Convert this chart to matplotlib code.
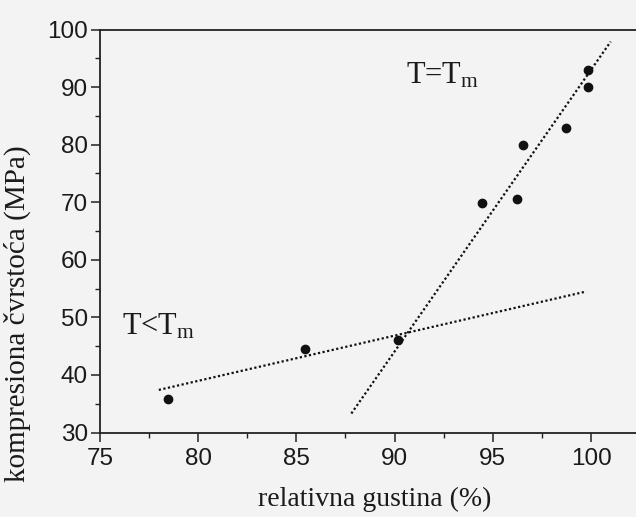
import matplotlib
matplotlib.use("Agg")
import matplotlib.pyplot as plt
from matplotlib.ticker import MultipleLocator

# measured points: relative density (%) vs compressive strength (MPa)
gustina = [78.45, 85.45, 90.18, 94.45, 96.22, 96.53, 98.75, 99.87, 99.87]
cvrstoca = [35.9, 44.5, 46.0, 69.8, 70.6, 80.0, 82.9, 93.0, 90.0]

# dotted fit lines (end points)
fit_low_x = [78.0, 99.76]
fit_low_y = [37.4, 54.5]
fit_high_x = [87.8, 101.0]
fit_high_y = [33.3, 97.9]

x_ticks = [75, 80, 85, 90, 95, 100]
y_ticks = [30, 40, 50, 60, 70, 80, 90, 100]

bg = "#f3f3f4"
serif = ["Liberation Serif", "DejaVu Serif"]
narrow = ["Liberation Sans Narrow", "Liberation Sans", "DejaVu Sans"]

fig = plt.figure(figsize=(6.36, 5.17), dpi=100, facecolor=bg)
ax = fig.add_axes([0.157, 0.1634, 0.865, 0.7795], facecolor=bg)

ax.plot(fit_low_x, fit_low_y, color="#111111", lw=1.6, linestyle=(0, (1, 1.1)))
ax.plot(fit_high_x, fit_high_y, color="#111111", lw=1.6, linestyle=(0, (1, 1.1)))
ax.plot(gustina, cvrstoca, "o", color="#111111", ms=6, zorder=3)

ax.set_xlim(75, 103)
ax.set_ylim(30, 100)
ax.set_xticks(x_ticks)
ax.set_yticks(y_ticks)
ax.xaxis.set_minor_locator(MultipleLocator(2.5))
ax.yaxis.set_minor_locator(MultipleLocator(5))

for s in ["left", "bottom", "top"]:
    ax.spines[s].set_linewidth(1.3)
    ax.spines[s].set_color("#222222")
ax.spines["right"].set_visible(False)

ax.tick_params(which="major", direction="out", length=6.5, width=1.1, color="#222222", pad=2)
ax.tick_params(which="minor", direction="out", length=3.5, width=1.0, color="#222222")
ax.tick_params(axis="x", which="major", pad=5)
for lab in ax.get_xticklabels() + ax.get_yticklabels():
    lab.set_family(narrow)
    lab.set_fontsize(17.5)
    lab.set_color("#1a1a1a")

ax.set_xlabel("relativna gustina (%)", family=serif, fontsize=20, color="#1a1a1a")
ax.set_ylabel("kompresiona čvrstoća (MPa)", family=serif, fontsize=21, color="#1a1a1a")
ax.xaxis.set_label_coords(0.5, -0.135)
ax.yaxis.set_label_coords(-0.126, 0.294)

ax.text(90.56, 90.7, "T=$\\mathregular{T_m}$", family=serif, fontsize=22, va="baseline", color="#1a1a1a")
ax.text(76.13, 46.96, "T<$\\mathregular{T_m}$", family=serif, fontsize=22, va="baseline", color="#1a1a1a")

fig.savefig("out.png", dpi=100, facecolor=bg)
